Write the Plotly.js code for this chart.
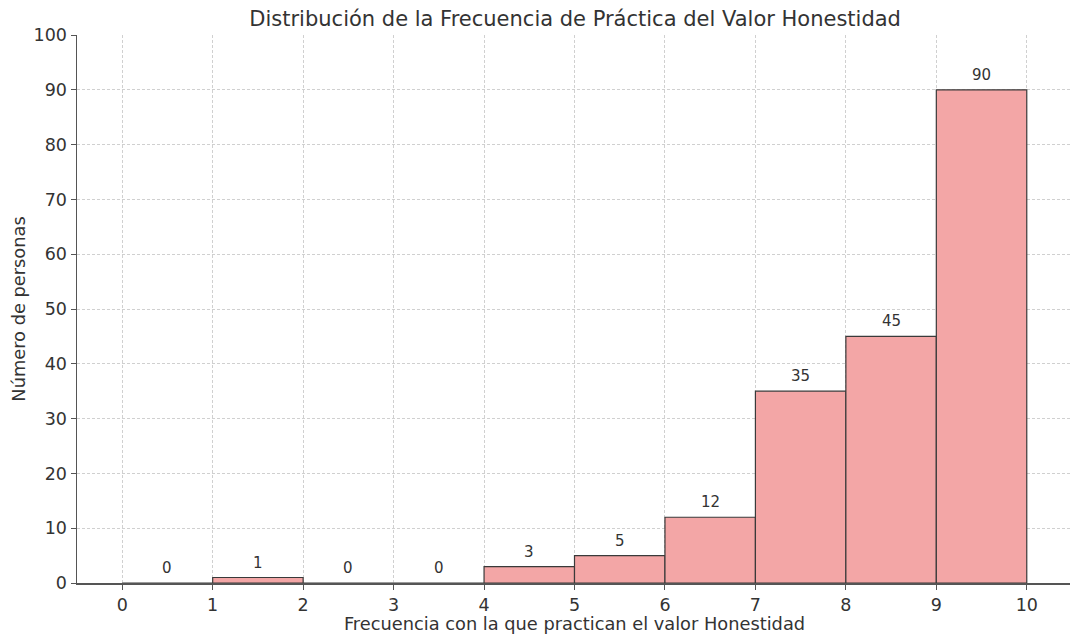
<!DOCTYPE html>
<html>
<head>
<meta charset="utf-8">
<script src="https://cdn.plot.ly/plotly-3.0.1.min.js"></script>
<style>
html, body { margin: 0; padding: 0; overflow: hidden; background: #fff; }
#chart { width: 1072px; height: 634px; }
</style>
</head>
<body>
<div id="chart"></div>
<script>
const binStarts = [0, 1, 2, 3, 4, 5, 6, 7, 8, 9];
const counts = [0, 1, 0, 0, 3, 5, 12, 35, 45, 90];
const xTicks = [0, 1, 2, 3, 4, 5, 6, 7, 8, 9, 10];
const yTicks = [0, 10, 20, 30, 40, 50, 60, 70, 80, 90, 100];

const centers = binStarts.map(b => b + 0.5);
const fontFam = 'DejaVu Sans, sans-serif';
const textCol = '#333333';

const trace = {
  type: 'bar',
  x: centers,
  y: counts,
  width: 1,
  marker: { color: 'rgb(243,166,166)', line: { color: '#3a3a3a', width: 1.2 } },
  hoverinfo: 'skip'
};

const annotations = centers.map((c, i) => ({
  x: c, y: counts[i], xref: 'x', yref: 'y',
  text: String(counts[i]), showarrow: false,
  yanchor: 'bottom', yshift: 4,
  font: { family: fontFam, size: 15, color: textCol }
}));

const layout = {
  width: 1072, height: 634,
  margin: { l: 77, r: 0, t: 35, b: 51 },
  paper_bgcolor: '#ffffff', plot_bgcolor: '#ffffff',
  showlegend: false,
  title: { text: 'Distribución de la Frecuencia de Práctica del Valor Honestidad',
           font: { family: fontFam, size: 21, color: textCol },
           x: 0.5365, xanchor: 'center', y: 0.971, yanchor: 'middle' },
  xaxis: {
    range: [-0.5, 10.5], tickvals: xTicks, ticktext: xTicks.map(String),
    showgrid: true, gridcolor: '#d0d0d0', griddash: '3px,2px', gridwidth: 1,
    zeroline: false, showline: true, linecolor: '#555555', linewidth: 1.5,
    ticks: 'outside', ticklen: 5, tickcolor: '#555555',
    tickfont: { family: fontFam, size: 17.5, color: textCol },
    title: { text: 'Frecuencia con la que practican el valor Honestidad',
             font: { family: fontFam, size: 17.8, color: textCol }, standoff: 4 }
  },
  yaxis: {
    range: [0, 100], tickvals: yTicks, ticktext: yTicks.map(String),
    showgrid: true, gridcolor: '#d0d0d0', griddash: '3px,2px', gridwidth: 1,
    zeroline: false, showline: true, linecolor: '#555555', linewidth: 1.5,
    ticks: 'outside', ticklen: 5, tickcolor: '#555555',
    tickfont: { family: fontFam, size: 17.5, color: textCol },
    title: { text: 'Número de personas',
             font: { family: fontFam, size: 17.8, color: textCol }, standoff: 3 }
  },
  annotations: annotations
};

Plotly.newPlot('chart', [trace], layout, { displayModeBar: false, staticPlot: true });
</script>
</body>
</html>
